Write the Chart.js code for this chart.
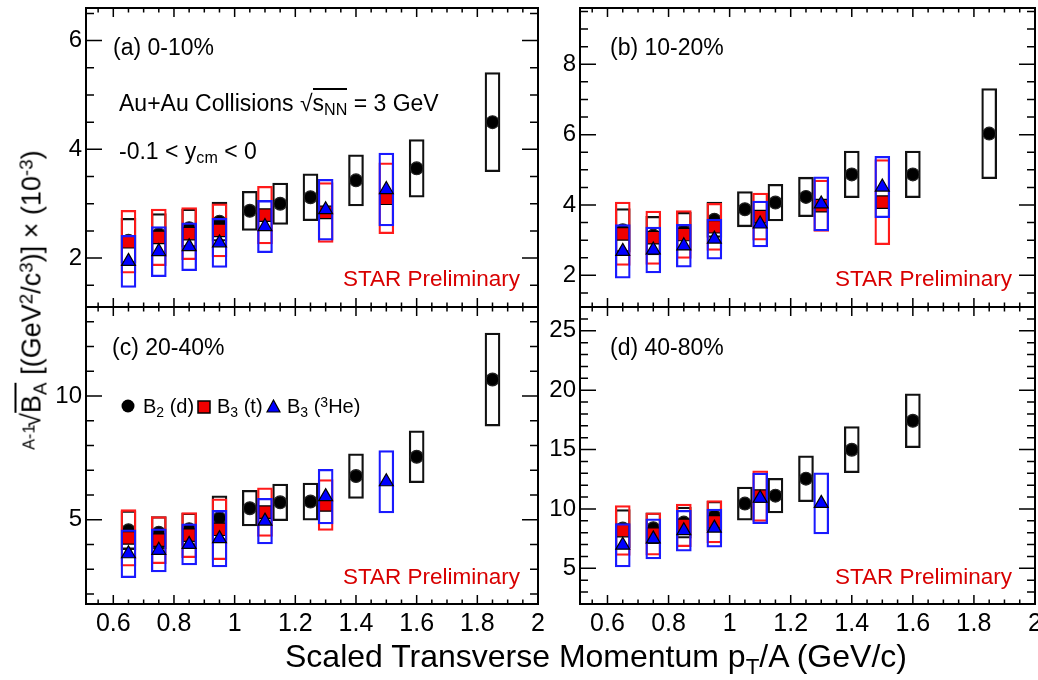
<!DOCTYPE html>
<html>
<head>
<meta charset="utf-8">
<script src="https://cdn.jsdelivr.net/npm/chart.js@4.4.1/dist/chart.umd.min.js"></script>
<style>
  html, body { margin: 0; padding: 0; background: #fff; }
  #fig { position: relative; width: 1038px; height: 680px; overflow: hidden;
         font-family: 'Liberation Sans', Arial, sans-serif; color: #000; }
  #fig canvas { position: absolute; }
  .txt { position: absolute; white-space: nowrap; line-height: 1; }
  .txt sub, .txt sup { font-size: 0.7em; position: relative; vertical-align: baseline; line-height: 0; }
  .txt sub { top: 0.3em; }
  .txt sup { top: -0.45em; }
  .txt sup.idx { font-size: 0.6em; top: -0.35em; margin-right: -0.2em; }
  .ov { border-top: 2px solid #000; }
  .star { color: #d80000; }
  #ytitle { transform: translate(-50%, -50%) rotate(-90deg); }
</style>
</head>
<body>
<div id="fig">
  <canvas id="pa" width="545" height="320" style="left:0;top:0"></canvas>
  <canvas id="pb" width="493" height="320" style="left:545px;top:0"></canvas>
  <canvas id="pc" width="545" height="340" style="left:0;top:300px"></canvas>
  <canvas id="pd" width="493" height="340" style="left:545px;top:300px"></canvas>
</div>
<script>
// pT/A bins
const ptD  = [0.65, 0.75, 0.85, 0.95, 1.05, 1.15, 1.25, 1.40, 1.60, 1.85];
const ptA3 = [0.65, 0.75, 0.85, 0.95, 1.10, 1.30, 1.50];
const xTicks = [0.6, 0.8, 1, 1.2, 1.4, 1.6, 1.8, 2];

// (a) 0-10%
const dA     = [2.32, 2.44, 2.55, 2.67, 2.87, 3.00, 3.12, 3.43, 3.65, 4.50];
const dAsys  = [0.41, 0.38, 0.35, 0.36, 0.36, 0.38, 0.43, 0.47, 0.53, 0.91];
const tA     = [2.30, 2.38, 2.45, 2.51, 2.79, 2.84, 3.10];
const tAsys  = [0.58, 0.52, 0.48, 0.49, 0.53, 0.55, 0.65];
const heA    = [1.94, 2.12, 2.21, 2.28, 2.58, 2.89, 3.26];
const heAsys = [0.48, 0.46, 0.44, 0.45, 0.48, 0.56, 0.67];

// (b) 10-20%
const dB     = [3.28, 3.13, 3.26, 3.58, 3.88, 4.07, 4.23, 4.87, 4.87, 6.03];
const dBsys  = [0.62, 0.55, 0.53, 0.50, 0.50, 0.52, 0.56, 0.66, 0.66, 1.28];
const tB     = [3.18, 3.07, 3.16, 3.38, 3.67, 3.98, 4.08];
const tBsys  = [0.90, 0.76, 0.68, 0.67, 0.67, 0.73, 1.21];
const heB    = [2.68, 2.72, 2.84, 3.03, 3.46, 4.03, 4.51];
const heBsys = [0.76, 0.65, 0.61, 0.57, 0.65, 0.77, 0.87];

// (c) 20-40%
const dC     = [4.58, 4.48, 4.62, 5.07, 5.47, 5.71, 5.74, 6.77, 7.55, 10.67];
const dCsys  = [0.78, 0.65, 0.65, 0.90, 0.72, 0.74, 0.75, 0.90, 1.05, 1.88];
const tC     = [4.27, 4.18, 4.38, 4.62, 5.31, 5.60, null];
const tCsys  = [1.14, 0.95, 0.91, 1.23, 0.98, 1.03, null];
const heC    = [3.63, 3.77, 4.01, 4.24, 4.95, 5.94, 6.54];
const heCsys = [0.97, 0.87, 0.83, 1.14, 0.92, 1.10, 1.26];

// (d) 40-80%
const dD     = [8.35, 8.38, 8.85, 9.40, 10.45, 11.12, 12.55, 14.99, 17.42, null];
const dDsys  = [1.60, 1.30, 1.30, 1.25, 1.40, 1.45, 1.93, 1.94, 2.27, null];
const tD     = [8.18, 7.89, 8.62, 8.92, 11.09, null, null];
const tDsys  = [2.10, 1.78, 1.80, 1.78, 2.13, null, null];
const heD    = [6.95, 7.48, 8.17, 8.39, 10.90, 10.47, null];
const heDsys = [1.82, 1.68, 1.72, 1.61, 2.13, 2.57, null];

const FONT = "'Liberation Sans', Arial, sans-serif";
Chart.defaults.font.family = FONT;

// cadre + graduations vers l'intérieur, style ROOT
const frameTicks = {
  id: 'frameTicks',
  afterDraw(chart, args, o) {
    const {ctx, chartArea: a, scales: {x, y}} = chart;
    const each = (min, max, minor, major, fn) => {
      for (let i = Math.ceil(min / minor - 1e-9); i * minor <= max + 1e-9; i++) {
        const v = i * minor;
        fn(v, Math.abs(v / major - Math.round(v / major)) < 1e-6);
      }
    };
    ctx.save();
    ctx.strokeStyle = '#000';
    ctx.lineWidth = 1.5;
    ctx.beginPath();
    each(x.min, x.max, o.xMinor, o.xMajor, (v, m) => {
      const px = x.getPixelForValue(v), L = m ? 9 : 4.5;
      ctx.moveTo(px, a.bottom); ctx.lineTo(px, a.bottom - L);
      ctx.moveTo(px, a.top); ctx.lineTo(px, a.top + L);
    });
    each(y.min, y.max, o.yMinor, o.yMajor, (v, m) => {
      const py = y.getPixelForValue(v), L = m ? 16 : 8;
      ctx.moveTo(a.left, py); ctx.lineTo(a.left + L, py);
      ctx.moveTo(a.right, py); ctx.lineTo(a.right - L, py);
    });
    ctx.stroke();
    ctx.lineWidth = 2;
    ctx.strokeRect(a.left, a.top, a.right - a.left, a.bottom - a.top);
    ctx.restore();
  }
};

function boxes(xs, vals, errs, color, order) {
  return {
    type: 'bar',
    data: xs.map((x, i) => vals[i] == null ? null : {x, y: [vals[i] - errs[i], vals[i] + errs[i]]}).filter(Boolean),
    borderColor: color,
    backgroundColor: 'rgba(0,0,0,0)',
    borderWidth: 1.6,
    borderSkipped: false,
    barThickness: 15,
    grouped: false,
    order
  };
}

function markers(xs, vals, style, r, fill, order) {
  return {
    type: 'scatter',
    data: xs.map((x, i) => ({x, y: vals[i]})).filter(p => p.y != null),
    pointStyle: style,
    pointRadius: r,
    backgroundColor: fill,
    borderColor: style === 'circle' ? '#222' : '#000',
    borderWidth: 1.2,
    order
  };
}

function panel(id, p) {
  return new Chart(document.getElementById(id), {
    type: 'scatter',
    data: {
      datasets: [
        boxes(ptD, p.d, p.dsys, '#111111', 5),
        markers(ptD, p.d, 'circle', 6.4, '#000000', 4),
        boxes(ptA3, p.t, p.tsys, '#ff1a1a', 3),
        markers(ptA3, p.t, 'rect', 8.8, '#f00000', 2),
        boxes(ptA3, p.he, p.hesys, '#1a1aff', 1),
        markers(ptA3, p.he, 'triangle', 8, '#0000ff', 0)
      ]
    },
    options: {
      responsive: false,
      animation: false,
      devicePixelRatio: 1,
      events: [],
      layout: { autoPadding: false, padding: { left: 0, top: p.padTop, right: p.padRight, bottom: 0 } },
      plugins: {
        legend: { display: false },
        tooltip: { enabled: false },
        frameTicks: { xMajor: 0.2, xMinor: 0.05, yMajor: p.yMajor, yMinor: p.yMinor }
      },
      scales: {
        x: {
          type: 'linear', min: 0.51, max: 2.0, offset: false,
          grid: { display: false, drawTicks: false, offset: false },
          border: { display: false },
          ticks: { display: p.xLabels, color: '#000', font: { size: 25 }, padding: 5, maxRotation: 0,
                   callback: v => String(v) },
          afterBuildTicks: s => { s.ticks = xTicks.map(v => ({value: v})); },
          afterFit: s => { s.height = p.xHeight; s.paddingLeft = 0; s.paddingRight = 0; }
        },
        y: {
          type: 'linear', min: p.yMin, max: p.yMax,
          grid: { display: false, drawTicks: false },
          border: { display: false },
          ticks: { color: '#000', font: { size: 24 }, padding: 4, callback: v => String(v) },
          afterBuildTicks: s => { s.ticks = p.yTicks.map(v => ({value: v})); },
          afterFit: s => { s.width = p.yWidth; s.paddingTop = 0; s.paddingBottom = 0; }
        }
      }
    },
    plugins: [frameTicks]
  });
}

panel('pa', { d: dA, dsys: dAsys, t: tA, tsys: tAsys, he: heA, hesys: heAsys,
  yMin: 1.1, yMax: 6.6, yTicks: [2, 4, 6], yMajor: 2, yMinor: 0.5,
  padTop: 8, padRight: 7, yWidth: 86, xHeight: 13, xLabels: false });
panel('pb', { d: dB, dsys: dBsys, t: tB, tsys: tBsys, he: heB, hesys: heBsys,
  yMin: 1.1, yMax: 9.6, yTicks: [2, 4, 6, 8], yMajor: 2, yMinor: 0.5,
  padTop: 8, padRight: 3, yWidth: 35, xHeight: 13, xLabels: false });
panel('pc', { d: dC, dsys: dCsys, t: tC, tsys: tCsys, he: heC, hesys: heCsys,
  yMin: 1.6, yMax: 13.6, yTicks: [5, 10], yMajor: 5, yMinor: 1,
  padTop: 7, padRight: 7, yWidth: 86, xHeight: 36, xLabels: true });
panel('pd', { d: dD, dsys: dDsys, t: tD, tsys: tDsys, he: heD, hesys: heDsys,
  yMin: 2.0, yMax: 27.0, yTicks: [5, 10, 15, 20, 25], yMajor: 5, yMinor: 1,
  padTop: 7, padRight: 3, yWidth: 35, xHeight: 36, xLabels: true });

// textes
const fig = document.getElementById('fig');
function label(html, x, baseline, size, cls) {
  const d = document.createElement('div');
  d.className = 'txt' + (cls ? ' ' + cls : '');
  d.style.fontSize = size + 'px';
  d.style.left = x + 'px';
  d.style.top = (baseline - 0.8465 * size) + 'px';
  d.innerHTML = html;
  fig.appendChild(d);
  return d;
}

label('(a) 0-10%', 113, 55, 23);
label('(b) 10-20%', 610, 55, 23);
label('(c) 20-40%', 112, 355, 23);
label('(d) 40-80%', 610, 355, 23);
label('Au+Au Collisions √<span class="ov">s<sub>NN</sub></span> = 3 GeV', 119, 111, 23);
label('-0.1 &lt; y<sub>cm</sub> &lt; 0', 119, 159, 23);
[[343, 287], [835, 287], [343, 585], [835, 585]].forEach(([x, b]) => label('STAR Preliminary', x, b, 22.5, 'star'));

// légende du panneau (c)
label('B<sub>2</sub> (d)', 143, 413, 20);
label('B<sub>3</sub> (t)', 217, 413, 20);
label('B<sub>3</sub> (<sup>3</sup>He)', 287, 413, 20);
fig.insertAdjacentHTML('beforeend',
  '<svg style="position:absolute;left:121px;top:399px" width="14" height="14"><circle cx="7" cy="7" r="6.5" fill="#000"/></svg>' +
  '<svg style="position:absolute;left:197px;top:400px" width="14" height="14"><rect x="1" y="1" width="12" height="12" fill="#f00000" stroke="#000" stroke-width="1.5"/></svg>' +
  '<svg style="position:absolute;left:266px;top:399px" width="15" height="15"><polygon points="7.5,1 14,13 1,13" fill="#0000ff" stroke="#000" stroke-width="1.2"/></svg>');

// titres des axes
label('Scaled Transverse Momentum p<sub>T</sub>/A (GeV/c)', 285, 667, 32);
const yt = label('<sup class="idx">A-1</sup>√<span class="ov">B<sub>A</sub></span> [(GeV<sup>2</sup>/c<sup>3</sup>)] × (10<sup>-3</sup>)', 32, 0, 27);
yt.id = 'ytitle';
yt.style.top = '300px';
</script>
</body>
</html>
